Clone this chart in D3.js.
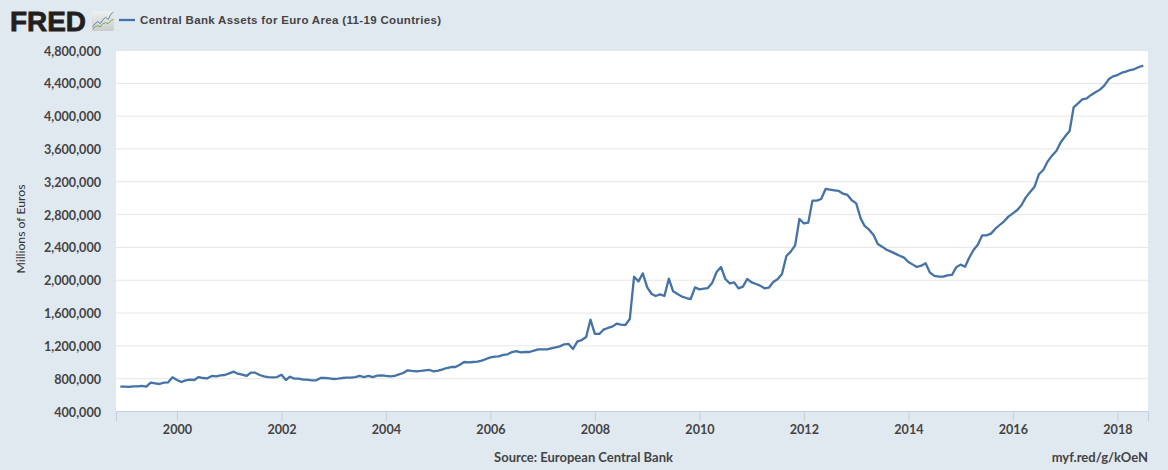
<!DOCTYPE html>
<html>
<head>
<meta charset="utf-8">
<script src="https://cdn.jsdelivr.net/npm/d3@7"></script>
<style>
  html, body { margin: 0; padding: 0; background: #e1e9f0; }
  text { font-family: "Lato", "Liberation Sans", sans-serif; fill: #333; }
  .axis text { font-size: 12.6px; font-weight: 700; fill: #444; }
</style>
</head>
<body>
<div id="chart"></div>
<script>
var seriesName = 'Central Bank Assets for Euro Area (11-19 Countries)';
var yTitle = 'Millions of Euros';
var sourceNote = 'Source: European Central Bank';
var shortLink = 'myf.red/g/kOeN';

// monthly values, in millions of euros
var assets1998 = [697000];
var assets1999 = [697000, 693000, 701000, 701000, 705000, 697000, 745000, 737000, 729000, 745000, 749000, 810000];
var assets2000 = [778000, 753000, 774000, 782000, 778000, 814000, 802000, 798000, 827000, 823000, 835000, 839000];
var assets2001 = [859000, 879000, 855000, 843000, 827000, 867000, 867000, 839000, 823000, 814000, 810000, 814000];
var assets2002 = [843000, 778000, 818000, 794000, 794000, 782000, 782000, 774000, 774000, 802000, 802000, 798000];
var assets2003 = [790000, 794000, 802000, 806000, 806000, 814000, 827000, 814000, 827000, 814000, 831000, 835000];
var assets2004 = [827000, 823000, 827000, 847000, 863000, 896000, 888000, 883000, 888000, 896000, 900000, 883000];
var assets2005 = [892000, 908000, 924000, 936000, 936000, 965000, 997000, 993000, 997000, 1001000, 1014000, 1034000];
var assets2006 = [1054000, 1062000, 1066000, 1083000, 1091000, 1119000, 1131000, 1115000, 1119000, 1119000, 1135000, 1152000];
var assets2007 = [1152000, 1152000, 1164000, 1176000, 1188000, 1213000, 1217000, 1156000, 1249000, 1265000, 1302000, 1513000];
var assets2008 = [1339000, 1339000, 1391000, 1412000, 1428000, 1464000, 1452000, 1448000, 1521000, 2037000, 1980000, 2078000];
var assets2009 = [1907000, 1826000, 1802000, 1822000, 1802000, 2013000, 1859000, 1826000, 1794000, 1777000, 1765000, 1907000];
var assets2010 = [1883000, 1891000, 1899000, 1964000, 2094000, 2155000, 2009000, 1956000, 1968000, 1895000, 1916000, 2009000];
var assets2011 = [1968000, 1948000, 1928000, 1895000, 1903000, 1972000, 2005000, 2070000, 2289000, 2342000, 2419000, 2740000];
var assets2012 = [2687000, 2696000, 2964000, 2964000, 2984000, 3106000, 3098000, 3090000, 3082000, 3049000, 3033000, 2968000];
var assets2013 = [2931000, 2748000, 2655000, 2610000, 2549000, 2436000, 2403000, 2366000, 2342000, 2318000, 2293000, 2269000];
var assets2014 = [2216000, 2184000, 2155000, 2171000, 2200000, 2086000, 2046000, 2037000, 2037000, 2054000, 2058000, 2151000];
var assets2015 = [2184000, 2159000, 2265000, 2362000, 2427000, 2541000, 2541000, 2562000, 2622000, 2667000, 2712000, 2769000];
var assets2016 = [2809000, 2850000, 2907000, 3004000, 3069000, 3134000, 3285000, 3338000, 3443000, 3512000, 3573000, 3675000];
var assets2017 = [3748000, 3813000, 4101000, 4150000, 4199000, 4211000, 4252000, 4284000, 4317000, 4366000, 4443000, 4479000];
var assets2018 = [4495000, 4524000, 4536000, 4556000, 4568000, 4593000, 4609000];

var yTicks = [400000, 800000, 1200000, 1600000, 2000000, 2400000, 2800000, 3200000, 3600000, 4000000, 4400000, 4800000];
var xTickYears = [2000, 2002, 2004, 2006, 2008, 2010, 2012, 2014, 2016, 2018];

// logo sparklines, unit-less
var logoBlue = [3, 6, 8, 6, 10, 12, 10, 15, 17];
var logoGreen = [1, 3, 4, 3, 6, 7, 6, 9, 10];

var width = 1168, height = 470;
var margin = { top: 50, right: 20, bottom: 59, left: 116 };

var values = d3.merge([assets1998, assets1999, assets2000, assets2001, assets2002, assets2003, assets2004,
  assets2005, assets2006, assets2007, assets2008, assets2009, assets2010, assets2011, assets2012,
  assets2013, assets2014, assets2015, assets2016, assets2017, assets2018]);

var firstMonth = new Date(Date.UTC(1998, 11, 1));
var data = values.map(function (v, i) {
  return { date: d3.utcMonth.offset(firstMonth, i), value: v };
});

var svg = d3.select('#chart').append('svg')
  .attr('width', width)
  .attr('height', height)
  .style('display', 'block');

svg.append('rect')
  .attr('width', width)
  .attr('height', height)
  .attr('fill', '#e1e9f0');

var innerW = width - margin.left - margin.right;
var innerH = height - margin.top - margin.bottom;

svg.append('rect')
  .attr('x', margin.left)
  .attr('y', margin.top)
  .attr('width', innerW)
  .attr('height', innerH)
  .attr('fill', '#fff');

var x = d3.scaleUtc()
  .domain([new Date(Date.UTC(1998, 10, 1)), new Date(Date.UTC(2018, 7, 3))])
  .range([margin.left, margin.left + innerW]);

var y = d3.scaleLinear()
  .domain([400000, 4800000])
  .range([margin.top + innerH, margin.top]);

// Gridlines and labels
var yAxis = svg.append('g')
  .attr('class', 'axis')
  .attr('transform', 'translate(' + margin.left + ',0)')
  .call(d3.axisLeft(y).tickValues(yTicks).tickFormat(d3.format(',')).tickSize(-innerW).tickPadding(15));
yAxis.select('.domain').remove();
yAxis.selectAll('line').attr('stroke', '#e6e6e6').attr('stroke-width', 1);
yAxis.selectAll('text').attr('dy', '0.4em');

var xAxis = svg.append('g')
  .attr('class', 'axis')
  .attr('transform', 'translate(0,' + (margin.top + innerH) + ')')
  .call(d3.axisBottom(x)
    .tickValues(xTickYears.map(function (d) { return new Date(Date.UTC(d, 0, 1)); }))
    .tickFormat(d3.utcFormat('%Y'))
    .tickSize(10)
    .tickPadding(4));
xAxis.select('.domain').attr('stroke', '#c0d0e0').attr('stroke-width', 1);
xAxis.selectAll('line').attr('stroke', '#c0d0e0');

var line = d3.line()
  .x(function (d) { return x(d.date); })
  .y(function (d) { return y(d.value); });

svg.append('path')
  .datum(data)
  .attr('d', line)
  .attr('fill', 'none')
  .attr('stroke', '#4572a7')
  .attr('stroke-width', 2.3)
  .attr('stroke-linejoin', 'round');

// Axis title and footer
svg.append('text')
  .attr('transform', 'translate(25,' + 229 + ') rotate(-90)')
  .attr('text-anchor', 'middle')
  .style('font-size', '12.2px')
  .style('font-weight', 400)
  .style('fill', '#333')
  .text(yTitle);

svg.append('text')
  .attr('x', 583.5)
  .attr('y', 462)
  .attr('text-anchor', 'middle')
  .style('font-size', '13px')
  .style('font-weight', 700)
  .style('fill', '#444')
  .text(sourceNote);

svg.append('text')
  .attr('x', 1148)
  .attr('y', 462)
  .attr('text-anchor', 'end')
  .style('font-size', '13px')
  .style('font-weight', 700)
  .style('fill', '#444')
  .text(shortLink);

// Legend
svg.append('line')
  .attr('x1', 119).attr('x2', 135)
  .attr('y1', 20).attr('y2', 20)
  .attr('stroke', '#4572a7')
  .attr('stroke-width', 2.3);

svg.append('text')
  .attr('x', 140)
  .attr('y', 24)
  .attr('textLength', 301)
  .style('font-family', '"Liberation Sans", sans-serif')
  .style('font-size', '11.5px')
  .style('font-weight', 700)
  .style('fill', '#444')
  .text(seriesName);

// Logo
svg.append('text')
  .attr('x', 10)
  .attr('y', 30.5)
  .attr('textLength', 76)
  .attr('lengthAdjust', 'spacingAndGlyphs')
  .style('font-family', '"Liberation Sans", sans-serif')
  .style('font-size', '28px')
  .style('font-weight', 700)
  .style('fill', '#231f20')
  .style('stroke', '#231f20')
  .style('stroke-width', 0.8)
  .text('FRED');

var logoGrad = svg.append('defs').append('linearGradient')
  .attr('id', 'logoGrad')
  .attr('x1', 0).attr('y1', 0)
  .attr('x2', 0).attr('y2', 1);
logoGrad.append('stop').attr('offset', 0).attr('stop-color', '#eef1f1');
logoGrad.append('stop').attr('offset', 1).attr('stop-color', '#c9cdcb');

svg.append('rect')
  .attr('x', 92).attr('y', 11)
  .attr('width', 22).attr('height', 20)
  .attr('rx', 1.5)
  .attr('fill', 'url(#logoGrad)');

var logoX = d3.scaleLinear().domain([0, logoBlue.length - 1]).range([92.5, 113.5]);
var logoY = d3.scaleLinear().domain([0, 18]).range([30, 11]);
var logoLine = d3.line()
  .x(function (d, i) { return logoX(i); })
  .y(function (d) { return logoY(d); });

svg.append('path').attr('d', logoLine(logoBlue)).attr('fill', 'none').attr('stroke', '#5b8bb5').attr('stroke-width', 1);
svg.append('path').attr('d', logoLine(logoGreen)).attr('fill', 'none').attr('stroke', '#7da84f').attr('stroke-width', 1);
</script>
</body>
</html>
